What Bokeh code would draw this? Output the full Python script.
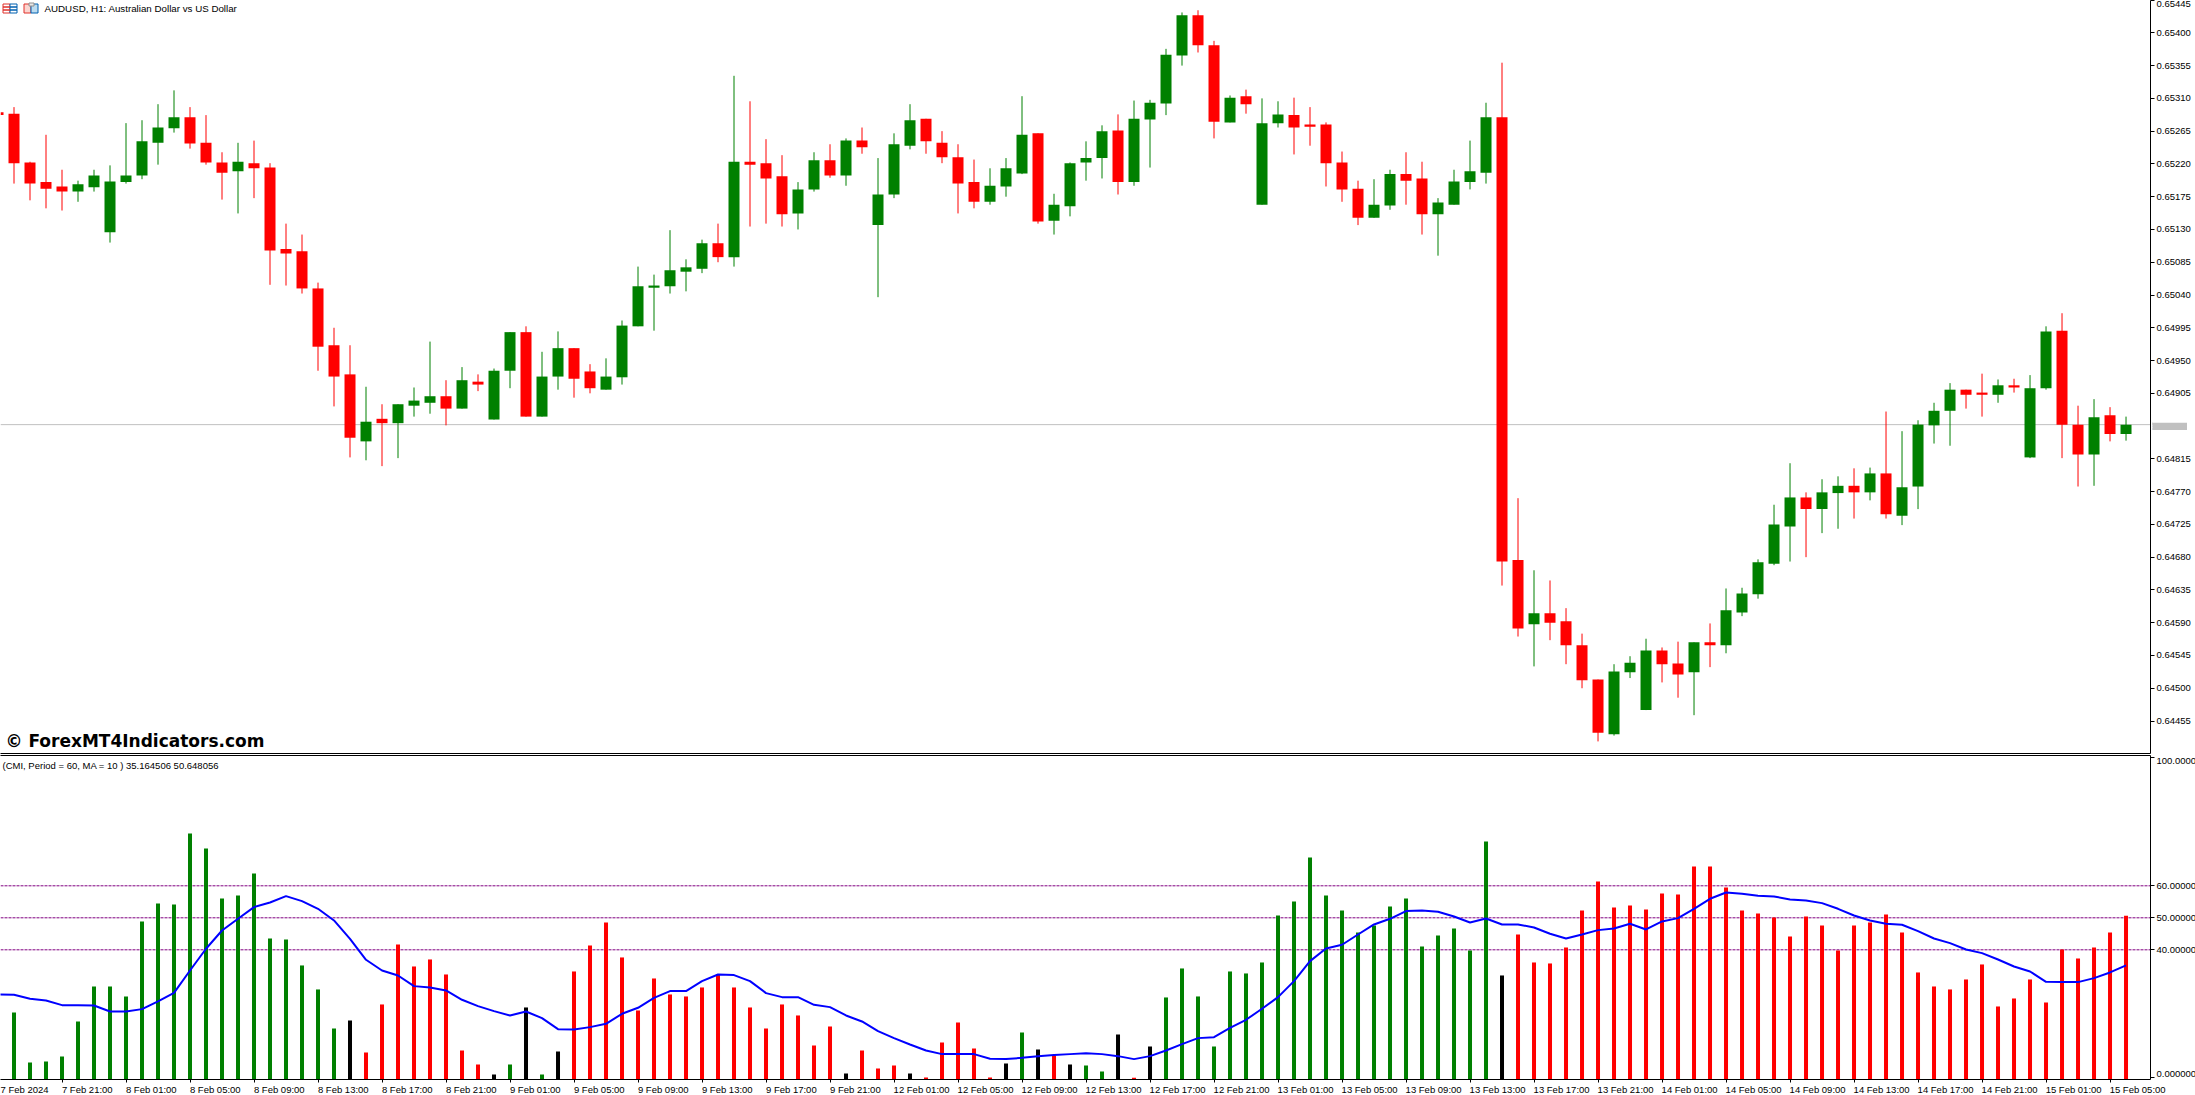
from bokeh.plotting import figure
from bokeh.layouts import column
from bokeh.core.properties import value
from bokeh.models import (Range1d, FixedTicker, LinearAxis, Span, Label, ColumnDataSource,
                          PrintfTickFormatter, BoxAnnotation)
from bokeh.embed import file_html
from bokeh.resources import INLINE

open_pts = [65291,65289,65222,65195,65189,65182,65188,65126,65195,65204,
65249,65269,65284,65249,65222,65210,65221,65215,65103,65100,
65049,64971,64931,64839,64870,64864,64888,64892,64901,64884,
64921,64869,64936,64989,64873,64928,64967,64935,64910,64927,
64997,65050,65052,65072,65076,65111,65092,65223,65221,65203,
65152,65185,65225,65204,65252,65136,65178,65245,65282,65249,
65229,65195,65168,65189,65207,65262,65142,65162,65222,65228,
65266,65195,65281,65303,65369,65424,65383,65277,65313,65164,
65276,65287,65274,65274,65222,65186,65146,65163,65206,65200,
65151,65164,65195,65208,65284,64676,64588,64603,64592,64559,
64512,64437,64522,64470,64552,64534,64522,64563,64559,64604,
64629,64671,64722,64762,64746,64768,64778,64769,64795,64737,
64777,64861,64881,64910,64906,64903,64916,64817,64912,64991,
64862,64821,64875,64849]
close_pts = [65287,65221,65193,65186,65182,65192,65204,65196,65204,65251,
65270,65284,65248,65222,65208,65223,65214,65101,65097,65049,
64969,64928,64844,64866,64864,64890,64895,64901,64884,64923,
64917,64936,64989,64873,64928,64967,64925,64912,64928,64998,
65052,65053,65074,65078,65111,65092,65223,65219,65200,65151,
65185,65225,65204,65252,65243,65178,65247,65280,65251,65229,
65193,65168,65190,65214,65260,65141,65164,65221,65228,65265,
65195,65282,65304,65370,65424,65383,65278,65311,65302,65276,
65288,65270,65271,65221,65185,65146,65164,65206,65197,65151,
65167,65196,65210,65284,64674,64582,64603,64590,64559,64511,
64439,64523,64535,64552,64533,64519,64563,64559,64607,64630,
64673,64725,64762,64746,64769,64778,64769,64795,64739,64776,
64862,64881,64910,64903,64903,64916,64913,64912,64990,64862,
64821,64872,64849,64862]
high_pts = [65291,65298,65223,65260,65212,65197,65212,65218,65276,65280,
65302,65321,65298,65287,65236,65249,65252,65221,65138,65123,
65057,64995,64971,64914,64890,64890,64913,64976,64923,64941,
64931,64939,64989,64997,64962,64990,64967,64945,64953,65005,
65079,65068,65129,65089,65116,65138,65341,65306,65254,65232,
65195,65236,65247,65255,65270,65228,65262,65302,65282,65265,
65247,65226,65214,65228,65313,65262,65179,65222,65251,65273,
65288,65307,65308,65378,65428,65431,65389,65314,65322,65310,
65306,65311,65298,65277,65237,65197,65199,65212,65236,65223,
65173,65212,65252,65304,65359,64761,64662,64648,64610,64575,
64512,64533,64544,64568,64556,64564,64563,64589,64637,64638,
64677,64752,64809,64769,64787,64791,64802,64803,64880,64853,
64868,64892,64919,64910,64932,64924,64925,64930,64997,65015,
64888,64897,64886,64873]
low_pts = [65287,65193,65170,65159,65156,65168,65182,65112,65193,65199,
65219,65263,65241,65219,65171,65152,65173,65054,65053,65042,
64936,64887,64817,64813,64805,64816,64873,64877,64861,64884,
64908,64869,64912,64873,64873,64910,64899,64905,64910,64917,
64997,64991,65042,65045,65070,65085,65079,65134,65138,65134,
65130,65182,65201,65190,65234,65037,65173,65240,65234,65221,
65152,65159,65164,65175,65206,65138,65123,65148,65197,65200,
65178,65190,65215,65287,65355,65373,65255,65277,65289,65164,
65270,65233,65245,65189,65168,65136,65146,65157,65164,65123,
65094,65164,65185,65193,64641,64571,64530,64566,64533,64500,
64427,64435,64514,64470,64508,64487,64463,64529,64548,64599,
64623,64669,64674,64680,64713,64719,64733,64758,64733,64724,
64746,64836,64833,64884,64873,64892,64906,64816,64910,64816,
64777,64778,64839,64840]

# CMI histogram, bars 1..133
cmi_values = [20.42,4.79,5.10,6.67,17.61,28.54,28.54,25.42,48.86,54.48,
54.17,76.36,71.67,56.04,56.98,63.86,43.54,43.23,35.11,27.61,
15.42,17.92,7.92,22.92,41.67,34.79,36.98,32.29,8.54,4.17,
1.04,4.17,21.98,1.04,8.23,33.23,41.36,48.54,37.61,21.04,
31.04,26.04,25.42,28.23,32.29,28.23,21.98,15.42,22.92,19.48,
10.11,16.04,1.36,8.54,2.92,3.86,1.36,0.11,11.04,17.29,
9.17,0.11,4.48,14.17,8.86,6.98,4.17,3.86,1.98,13.54,
0.05,9.79,25.11,34.17,25.42,9.79,33.23,32.61,36.04,50.73,
55.11,68.86,56.98,52.29,45.42,47.61,53.54,56.04,41.04,44.48,
46.67,39.79,73.86,31.98,44.79,36.04,35.73,40.73,52.29,61.36,
53.23,53.86,52.61,57.61,57.29,66.04,66.04,59.48,52.29,51.36,
50.11,44.17,50.42,47.61,39.79,47.61,48.54,51.04,45.42,32.92,
28.54,27.61,30.73,35.42,22.29,24.79,30.73,23.54,40.11,37.29,
40.73,45.42,50.65]
cmi_state = list("G"*21 + "K" + "R"*8 + "KGKGK" + "R"*17 + "K" + "RRR" + "K" + "RRRRR" + "KGKRK" + "GG" + "KRK" + "G"*21 + "K" + "R"*39)

# MA of CMI, bars 0..133
ma_values = [26.04,25.94,24.69,24.17,22.71,22.71,22.61,20.73,20.73,21.46,
23.86,26.56,33.54,40.32,46.04,49.69,53.34,54.79,56.77,55.21,
52.81,49.17,43.44,36.88,33.54,31.98,28.65,28.23,27.29,24.38,
22.40,20.84,19.48,20.73,18.65,15.21,15.11,15.84,16.88,20.00,
21.88,25.00,27.09,27.09,30.21,32.29,32.09,30.21,26.46,25.21,
25.21,22.82,22.09,19.48,17.61,14.59,12.40,10.42,8.54,7.40,
7.40,7.40,5.94,5.84,6.25,6.77,7.09,7.40,7.71,7.40,
6.77,5.84,6.77,8.54,10.52,12.40,12.71,15.63,18.13,21.57,
25.21,30.21,36.46,40.42,41.57,44.79,47.92,49.69,52.09,52.29,
51.88,50.42,48.54,49.79,47.92,47.92,46.98,45.00,43.54,44.79,
46.15,46.67,48.13,46.36,48.86,49.90,52.81,55.94,57.92,57.50,
56.88,56.67,55.73,55.42,54.59,52.81,50.73,49.17,48.13,47.82,
45.84,43.54,42.09,40.11,38.96,36.98,34.79,33.23,30.00,29.90,
29.90,31.15,32.92,35.16]

price_ticks = [0.65444,0.65400,0.65355,0.65310,0.65265,0.65220,0.65175,0.65130,0.65085,0.65040,
               0.64995,0.64950,0.64905,0.64815,0.64770,0.64725,0.64680,0.64635,0.64590,0.64545,
               0.64500,0.64455]
current_price = 0.64862
level_values = [40, 50, 60]
ind_ticks = [0, 40, 50, 60, 100]
ind_tick_text = ["0.000000", "40.000000", "50.000000", "60.000000", "100.000000"]
ind_label_pos = [1.25, 40, 50, 60, 98.85]

time_index = [0,4,8,12,16,20,24,28,32,36,40,44,48,52,56,60,64,68,72,76,80,84,88,92,96,100,104,108,112,116,120,124,128,132]
time_labels = ["7 Feb 2024","7 Feb 21:00","8 Feb 01:00","8 Feb 05:00","8 Feb 09:00","8 Feb 13:00","8 Feb 17:00","8 Feb 21:00",
               "9 Feb 01:00","9 Feb 05:00","9 Feb 09:00","9 Feb 13:00","9 Feb 17:00","9 Feb 21:00",
               "12 Feb 01:00","12 Feb 05:00","12 Feb 09:00","12 Feb 13:00","12 Feb 17:00","12 Feb 21:00",
               "13 Feb 01:00","13 Feb 05:00","13 Feb 09:00","13 Feb 13:00","13 Feb 17:00","13 Feb 21:00",
               "14 Feb 01:00","14 Feb 05:00","14 Feb 09:00","14 Feb 13:00","14 Feb 17:00","14 Feb 21:00",
               "15 Feb 01:00","15 Feb 05:00"]

GREEN, RED, BLACK = "#008000", "#ff0000", "#000000"
FONT = "Liberation Sans"
TICK = "9.5px"
FRAME_W = 2150
x_range = Range1d(0.156, 134.53)

n = len(open_pts)
idx = list(range(n))
src = ColumnDataSource(dict(
    x=idx,
    high=[v / 1e5 for v in high_pts],
    low=[v / 1e5 for v in low_pts],
    top=[max(a, b) / 1e5 for a, b in zip(open_pts, close_pts)],
    bottom=[min(a, b) / 1e5 for a, b in zip(open_pts, close_pts)],
    color=[GREEN if c > o else RED for o, c in zip(open_pts, close_pts)],
))

p1 = figure(width=2195, height=755, frame_width=FRAME_W, frame_height=753, x_range=x_range,
            y_range=Range1d(0.644104, 0.654444), output_backend="svg", toolbar_location=None,
            x_axis_location=None, y_axis_location="right",
            min_border_left=0, min_border_right=45, min_border_top=0, min_border_bottom=2)
p1.grid.visible = False
p1.outline_line_color = None
p1.background_fill_color = "#ffffff"

yax = p1.yaxis[0]
yax.ticker = FixedTicker(ticks=price_ticks)
yax.formatter = PrintfTickFormatter(format="%.5f")
yax.major_label_overrides = {0.65444: "0.65445"}
yax.axis_line_color = BLACK
yax.major_tick_line_color = BLACK
yax.major_tick_out = 4
yax.major_tick_in = 0
yax.minor_tick_line_color = None
yax.major_label_standoff = 2
yax.major_label_text_font = FONT
yax.major_label_text_font_size = TICK
yax.major_label_text_color = BLACK


def plain_axis(minor=(), major=(), overrides=None, out=3, standoff=1):
    return LinearAxis(ticker=FixedTicker(ticks=list(major), minor_ticks=list(minor)),
                      major_label_overrides=overrides or {}, major_tick_line_color=None, major_tick_in=0,
                      major_tick_out=out, major_label_standoff=standoff,
                      major_label_text_font=FONT, major_label_text_font_size=TICK, major_label_text_color=BLACK,
                      minor_tick_line_color=BLACK, minor_tick_in=0, minor_tick_out=out, axis_line_color=BLACK)


p1.add_layout(plain_axis(), "below")

p1.add_layout(Span(location=current_price, dimension="width", line_color="#c0c0c0", line_width=1, level="underlay"))
p1.segment("x", "low", "x", "high", source=src, line_color="color", line_width=1)
p1.vbar("x", top="top", bottom="bottom", width=0.6875, source=src, fill_color="color", line_color=None)

p1.add_layout(Label(x=44, x_units="screen", y=0.65433, text="AUDUSD, H1:  Australian Dollar vs US Dollar",
                    text_font=FONT, text_font_size="9.75px", text_baseline="middle", text_color=BLACK))
p1.add_layout(Label(x=5, x_units="screen", y=0.64428, text="\u00a9 ForexMT4Indicators.com",
                    text_font="DejaVu Sans", text_font_style="bold", text_font_size="17px",
                    text_baseline="middle", text_color=BLACK))


def icon(left, right, top, bottom, line, fill):
    p1.add_layout(BoxAnnotation(left=left, right=right, top=753 - top, bottom=753 - bottom,
                                left_units="screen", right_units="screen", top_units="screen", bottom_units="screen",
                                fill_color=fill, fill_alpha=1, line_color=line, line_alpha=1, line_width=1))


icon(2.5, 9.5, 3.5, 12.5, "#e0302a", "#ffffff")
icon(9.5, 16.5, 3.5, 12.5, "#0060b0", "#ffffff")
icon(2.5, 9.5, 6.5, 6.5, "#e0302a", "#ffffff")
icon(2.5, 9.5, 9.5, 9.5, "#e0302a", "#ffffff")
icon(9.5, 16.5, 6.5, 6.5, "#0060b0", "#ffffff")
icon(9.5, 16.5, 9.5, 9.5, "#0060b0", "#ffffff")
icon(23.5, 30.5, 3.5, 12.5, "#e0302a", "#fbd5d0")
icon(30.5, 37.5, 3.5, 12.5, "#0060b0", "#bcdcf0")
icon(28.5, 33.5, 2.5, 5.5, "#909090", "#e8e8e8")

# indicator pane
p2 = figure(width=2195, height=340, frame_width=FRAME_W, frame_height=324, x_range=x_range,
            y_range=Range1d(-0.53, 100.72), output_backend="svg", toolbar_location=None,
            x_axis_location=None, y_axis_location=None,
            min_border_left=0, min_border_right=45, min_border_top=0, min_border_bottom=16)
p2.grid.visible = False
p2.outline_line_color = None

state_color = {"G": GREEN, "R": RED, "K": BLACK}
bar_src = ColumnDataSource(dict(x=list(range(1, n)), top=cmi_values, color=[state_color[s] for s in cmi_state]))
for lv in level_values:
    p2.add_layout(Span(location=lv, dimension="width", line_color="#800080", line_width=1, line_dash="3 1", level="underlay"))
p2.vbar("x", top="top", bottom=-0.53, width=0.25, source=bar_src, fill_color="color", line_color=None)
p2.line(idx, ma_values, line_color="#0000ff", line_width=2)

# time labels start at their tick, so each label is centred half its own width to the right of it
label_centres = [round(i + len(t) * 4.6 / 2 / 16, 3) for i, t in zip(time_index, time_labels)]
p2.add_layout(plain_axis(minor=time_index, major=label_centres, overrides=dict(zip(label_centres, time_labels))), "below")
p2.add_layout(plain_axis(minor=ind_ticks, major=ind_label_pos, overrides=dict(zip(ind_label_pos, ind_tick_text)), out=4, standoff=2), "right")
p2.add_layout(plain_axis(), "above")

p2.add_layout(Label(x=2, x_units="screen", y=97.6, text="(CMI, Period = 60, MA = 10 ) 35.164506 50.648056",
                    text_font=FONT, text_font_size=TICK, text_baseline="middle", text_color=BLACK))

# current price tag, sitting on the price axis
tag = figure(width=35, height=10, x_range=Range1d(0, 1), y_range=Range1d(0, 1), output_backend="svg",
             toolbar_location=None, x_axis_location=None, y_axis_location=None,
             min_border=0, min_border_left=0, min_border_right=0, min_border_top=0, min_border_bottom=0,
             background_fill_color="#c0c0c0", border_fill_color="#c0c0c0", outline_line_color=None,
             styles={"position": "absolute", "left": "2152px", "top": "420px"})
tag.grid.visible = False
tag.text([0.086], [0.5], text=[f"{current_price:.5f}"], text_color="#ffffff", text_font=value(FONT),
         text_font_size=value(TICK), text_baseline="middle", text_align="left")

page = column(p1, p2, tag, spacing=0)
open("out.html", "w").write(file_html(page, INLINE))
